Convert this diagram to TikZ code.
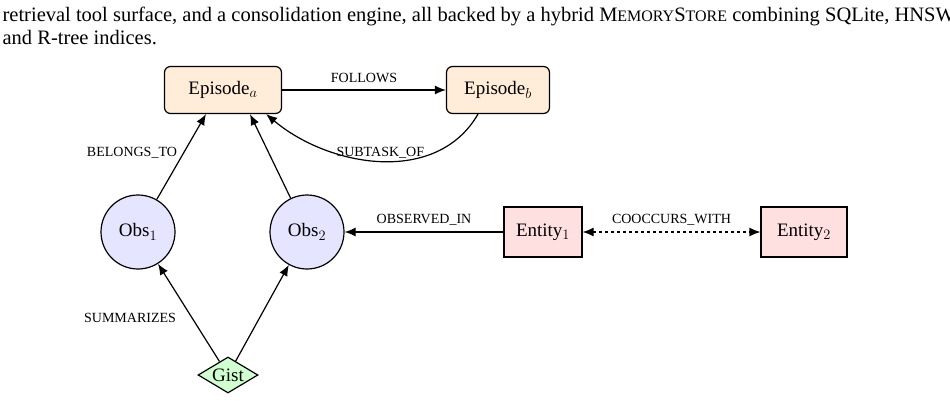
\documentclass[tikz,border=0pt]{standalone}
\usepackage{fontspec}
\setmainfont{Liberation Serif}
\usetikzlibrary{shapes.geometric,arrows.meta,calc}
\newcommand{\fsc}[1]{{\fontsize{16}{17}\selectfont #1}}
\begin{document}
\begin{tikzpicture}[x=1pt,y=-1pt,line width=1.2pt,
  nf/.style={font=\fontsize{19}{21}\selectfont},
  ep/.style={draw,rounded corners=6pt,fill=orange!15,minimum width=117pt,minimum height=47pt,nf},
  obs/.style={draw,circle,fill=blue!10,minimum size=74pt,nf},
  ent/.style={draw,fill=red!12,minimum width=78pt,minimum height=50pt,nf},
  gist/.style={draw,diamond,aspect=1.7,fill=green!18,inner sep=0pt,minimum width=60pt,minimum height=36pt,nf},
  lab/.style={font=\fontsize{14}{16}\selectfont},
  arr/.style={-{Latex[length=11pt,width=9pt]}}]
\useasboundingbox (0,0) rectangle (950,401);
\node[anchor=west,inner sep=0pt,font=\fontsize{20.5}{22}\selectfont] (c1) at (2,16) {retrieval tool surface, and a consolidation engine, all backed by a hybrid M\fsc{EMORY}S\fsc{TORE} combining SQLite, HNSW,};
\node[anchor=west,inner sep=0pt,font=\fontsize{20.5}{22}\selectfont] (c2) at (2,38) {and R-tree indices.};
\node[ep] (ea) at (223,90) {Episode$_a$};
\node[ep,minimum width=103pt] (eb) at (498,90) {Episode$_b$};
\node[obs] (o1) at (138,232) {Obs$_1$};
\node[obs] (o2) at (307,232) {Obs$_2$};
\node[ent] (e1) at (543,232) {Entity$_1$};
\node[ent,minimum width=86pt] (e2) at (804,232) {Entity$_2$};
\node[gist] (g) at (228,375) {Gist};
\coordinate (sb) at ($(eb.south)+(-20,0)$);
\coordinate (sa) at ($(ea.south east)+(-16,0)$);
\coordinate (ba) at ($(ea.south)+(-17,0)$);
\coordinate (bb) at ($(ea.south)+(27,0)$);
\draw[arr] (ea) -- node[lab,above=3pt]{FOLLOWS} (eb);
\draw[arr] (sb) to[out=-120,in=-40] node[lab,above=-1pt,pos=0.5]{SUBTASK\_OF} (sa);
\draw[arr] (o1) -- node[lab,left=3pt,pos=0.55]{BELONGS\_TO} (ba);
\draw[arr] (o2) -- (bb);
\draw[arr] (g) -- node[lab,left=12pt,pos=0.45]{SUMMARIZES} (o1);
\draw[arr] (g) -- (o2);
\draw[arr] (e1) -- node[lab,above=3pt]{OBSERVED\_IN} (o2);
\draw[dashed,{Latex[length=11pt,width=9pt]}-{Latex[length=11pt,width=9pt]}] (e1) -- node[lab,above=3pt]{COOCCURS\_WITH} (e2);
\end{tikzpicture}
\end{document}
